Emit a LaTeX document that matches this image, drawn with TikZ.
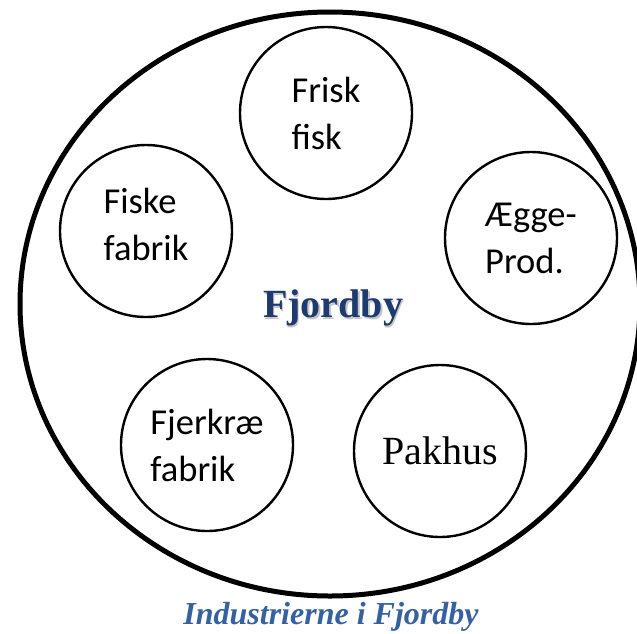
\documentclass[tikz,border=0pt]{standalone}
\usepackage{fontspec}
\usepackage{xcolor}
\usetikzlibrary{shapes.geometric}
\newfontfamily\bodyfont{Carlito}
\newfontfamily\titlefont{Liberation Serif}
\definecolor{ink}{HTML}{000000}
\definecolor{navy}{HTML}{1F3A6E}
\definecolor{capblue}{HTML}{3661A0}
\tikzset{
  town/.style={draw=ink, ellipse, line width=5pt, inner sep=0pt, minimum width=620pt, minimum height=584pt},
  firm/.style={draw=ink, circle, line width=2.4pt, inner sep=0pt, minimum size=172pt, align=left,
    font=\bodyfont\fontsize{36.5}{47}\selectfont},
  firmtext/.style={align=left, font=\bodyfont\fontsize{36.5}{47}\selectfont},
  caption/.style={text=capblue, font=\titlefont\bfseries\itshape\fontsize{32}{34}\selectfont}
}
\begin{document}
\begin{tikzpicture}[x=1pt,y=-1pt]
  \useasboundingbox (0,0) rectangle (637,633);

  \node[town] (by) at (330,304) {};

  \node[firm] (fisk)   at (326,113) {Frisk\\fisk};
  \node[firm, label={[firmtext, yshift=7pt]center:{Fiske\\fabrik}}] (fabrik) at (146,231) {};
  \node[firm] (aegge)  at (531,238) {Ægge-\\Prod.};
  \node[firm] (fjer)   at (207,445) {Fjerkræ\\fabrik};
  \node[firm, font=\titlefont\fontsize{40}{42}\selectfont] (pakhus) at (440,451) {Pakhus};

  % name of the town, with a soft shadow
  \node[text=gray!45, font=\titlefont\bfseries\fontsize{40}{42}\selectfont] at (334.5,309.5) {Fjordby};
  \node[text=navy, font=\titlefont\bfseries\fontsize{40}{42}\selectfont] (navn) at (333,308) {Fjordby};

  \node[caption] (tekst) at (331,617) {Industrierne i Fjordby};
\end{tikzpicture}
\end{document}
